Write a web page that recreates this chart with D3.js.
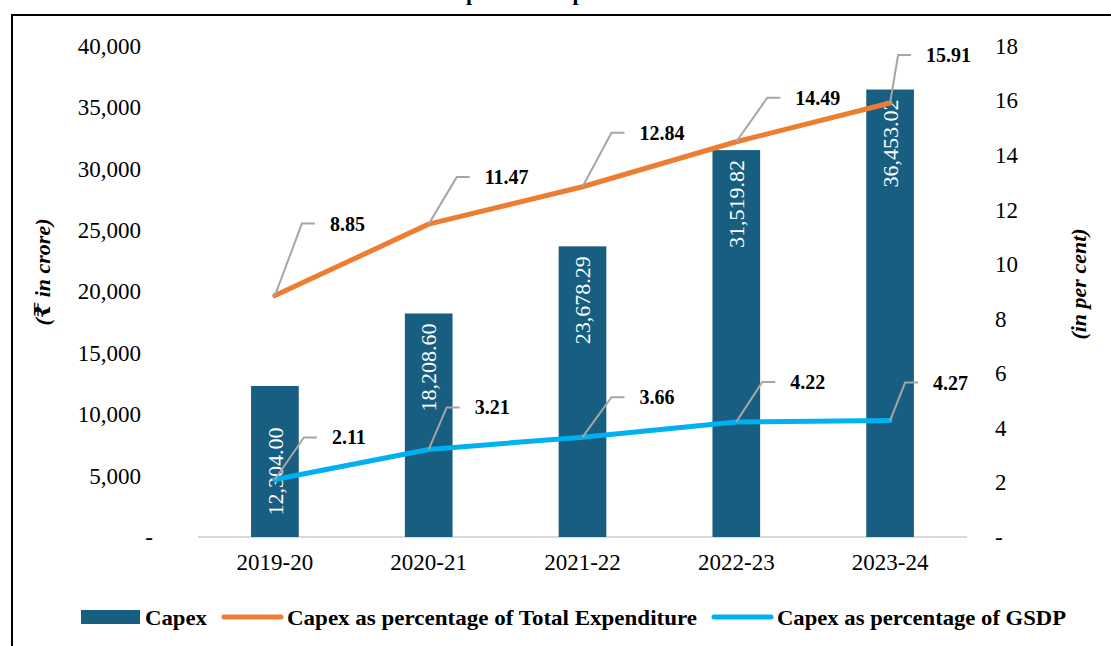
<!DOCTYPE html>
<html>
<head>
<meta charset="utf-8">
<script src="https://cdn.jsdelivr.net/npm/d3@7"></script>
<style>
  body { margin: 0; background: #fff; }
  svg { display: block; }
  svg text { font-family: "Liberation Serif", "Times New Roman", "DejaVu Serif", serif; }
</style>
</head>
<body>
<div id="chart"></div>
<script>
var years = ['2019-20', '2020-21', '2021-22', '2022-23', '2023-24']
var capex = [12304.00, 18208.60, 23678.29, 31519.82, 36453.02]
var pctTotalExp = [8.85, 11.47, 12.84, 14.49, 15.91]
var pctGsdp = [2.11, 3.21, 3.66, 4.22, 4.27]
var leftTicks = [0, 5000, 10000, 15000, 20000, 25000, 30000, 35000, 40000]
var rightTicks = [0, 2, 4, 6, 8, 10, 12, 14, 16, 18]

var width = 1111,
    height = 646

var margin = { top: 46, right: 144, bottom: 109, left: 198 }

var svg = d3.select('#chart').append('svg')
    .attr('width', width)
    .attr('height', height)

// frame, runs off the right and bottom edges like the source
svg.append('rect')
    .attr('x', 12).attr('y', 15)
    .attr('width', 1200).attr('height', 700)
    .style('fill', 'none')
    .style('stroke', '#000')
    .style('stroke-width', 2)

// title is mostly cut off at the top
svg.append('text')
    .attr('x', 555).attr('y', 0)
    .attr('text-anchor', 'middle')
    .style('font-weight', 'bold')
    .style('font-size', '22px')
    .text('Capex and Capex Ratios')

var x = d3.scaleBand()
    .domain(years)
    .range([margin.left, width - margin.right])
    .padding(0)

var yL = d3.scaleLinear()
    .domain([0, 40000])
    .range([height - margin.bottom, margin.top])

var yR = d3.scaleLinear()
    .domain([0, 18])
    .range([height - margin.bottom, margin.top])

var barW = x.bandwidth() * 0.31

// base line
svg.append('line')
    .attr('x1', margin.left).attr('x2', width - margin.right)
    .attr('y1', yL(0)).attr('y2', yL(0))
    .style('stroke', '#d9d9d9')
    .style('stroke-width', 2)

// axes
var fmt = d3.format(',')
var axisLeft = d3.axisLeft(yL)
    .tickValues(leftTicks)
    .tickSize(0).tickPadding(57)
    .tickFormat(d => d === 0 ? '-' : fmt(d))
var gl = svg.append('g').attr('class', 'axes')
    .attr('transform', `translate(${margin.left}, 0)`)
    .call(axisLeft)

var axisRight = d3.axisRight(yR)
    .tickValues(rightTicks)
    .tickSize(0).tickPadding(28)
    .tickFormat(d => d === 0 ? '-' : d)
var gr = svg.append('g').attr('class', 'axes')
    .attr('transform', `translate(${width - margin.right}, 0)`)
    .call(axisRight)

var axisBottom = d3.axisBottom(x)
    .tickSize(0).tickPadding(17)
var gb = svg.append('g').attr('class', 'axes')
    .attr('transform', `translate(0, ${yL(0)})`)
    .call(axisBottom)

svg.selectAll('.axes')
    .attr('font-family', null)
    .attr('font-size', null)
svg.selectAll('.axes .domain').remove()
svg.selectAll('.axes text')
    .style('font-size', '23px')
    .style('fill', '#000')
// the "-" for zero sits further right on the left axis
gl.selectAll('.tick text').filter(d => d === 0).attr('x', -45)

// axis titles
svg.append('text')
    .attr('transform', `translate(50, 272) rotate(-90)`)
    .attr('text-anchor', 'middle')
    .style('font-weight', 'bold').style('font-style', 'italic')
    .style('font-size', '22px')
    .text('(\u20B9 in crore)')

svg.append('text')
    .attr('transform', `translate(1086, 284) rotate(-90)`)
    .attr('text-anchor', 'middle')
    .style('font-weight', 'bold').style('font-style', 'italic')
    .style('font-size', '22px')
    .text('(in per cent)')

// bars
var bars = svg.append('g')
    .selectAll('rect')
    .data(capex)
    .enter().append('rect')
    .attr('x', (d, i) => x(years[i]) + x.bandwidth() / 2 - barW / 2)
    .attr('y', d => yL(d))
    .attr('width', barW)
    .attr('height', d => yL(0) - yL(d))
    .style('fill', '#175e80')

var barFmt = d3.format(',.2f')
svg.append('g')
    .selectAll('text')
    .data(capex)
    .enter().append('text')
    .attr('transform', function (d, i) {
        var cx = x(years[i]) + x.bandwidth() / 2
        var y = i === 0 ? (yL(d) + yL(0)) / 2 + 10 : yL(d) + 10
        return `translate(${cx}, ${y}) rotate(-90)`
    })
    .attr('text-anchor', (d, i) => i === 0 ? 'middle' : 'end')
    .attr('dy', '0.35em')
    .style('fill', '#fff')
    .style('font-family', '"Liberation Serif", "Times New Roman", serif')
    .style('font-size', '22px')
    .text(d => barFmt(d))

// lines
function drawLine(values, color) {
    var line = d3.line()
        .x((d, i) => x(years[i]) + x.bandwidth() / 2)
        .y(d => yR(d))
    svg.append('path')
        .datum(values)
        .attr('d', line)
        .style('fill', 'none')
        .style('stroke', color)
        .style('stroke-width', 5)
        .style('stroke-linecap', 'round')
        .style('stroke-linejoin', 'round')
}
drawLine(pctTotalExp, '#ed7d31')
drawLine(pctGsdp, '#00b0f0')

// leader lines + labels (elbow offsets from each point)
var totalElbow = [[27, -72], [28, -47], [29, -54], [31, -44], [8, -48]]
var gsdpElbow = [[29, -42], [18, -42], [29, -40], [26, -40], [15, -38]]

function drawLabels(values, elbows) {
    var g = svg.append('g')
    values.forEach(function (v, i) {
        var px = x(years[i]) + x.bandwidth() / 2
        var py = yR(v)
        var ex = px + elbows[i][0], ey = py + elbows[i][1]
        g.append('path')
            .attr('d', `M${px},${py}L${ex},${ey}L${ex + 13},${ey}`)
            .style('fill', 'none')
            .style('stroke', '#a6a6a6')
            .style('stroke-width', 2)
        g.append('text')
            .attr('x', ex + 28).attr('y', ey)
            .attr('dy', '0.35em')
            .style('font-weight', 'bold')
            .style('font-size', '20px')
            .text(v.toFixed(2))
    })
}
drawLabels(pctTotalExp, totalElbow)
drawLabels(pctGsdp, gsdpElbow)

// legend
var legend = svg.append('g').attr('transform', 'translate(0, 617)')
legend.append('rect')
    .attr('x', 81).attr('y', -7).attr('width', 59).attr('height', 14)
    .style('fill', '#175e80')
legend.append('text')
    .attr('x', 145).attr('dy', '0.35em')
    .attr('textLength', 62).attr('lengthAdjust', 'spacingAndGlyphs')
    .style('font-weight', 'bold').style('font-size', '22px')
    .text('Capex')

legend.append('line')
    .attr('x1', 224).attr('x2', 281)
    .style('stroke', '#ed7d31').style('stroke-width', 5).style('stroke-linecap', 'round')
legend.append('text')
    .attr('x', 287).attr('dy', '0.35em')
    .attr('textLength', 410).attr('lengthAdjust', 'spacingAndGlyphs')
    .style('font-weight', 'bold').style('font-size', '22px')
    .text('Capex as percentage of Total Expenditure')

legend.append('line')
    .attr('x1', 714).attr('x2', 771)
    .style('stroke', '#00b0f0').style('stroke-width', 5).style('stroke-linecap', 'round')
legend.append('text')
    .attr('x', 777).attr('dy', '0.35em')
    .attr('textLength', 289).attr('lengthAdjust', 'spacingAndGlyphs')
    .style('font-weight', 'bold').style('font-size', '22px')
    .text('Capex as percentage of GSDP')
</script>
</body>
</html>
